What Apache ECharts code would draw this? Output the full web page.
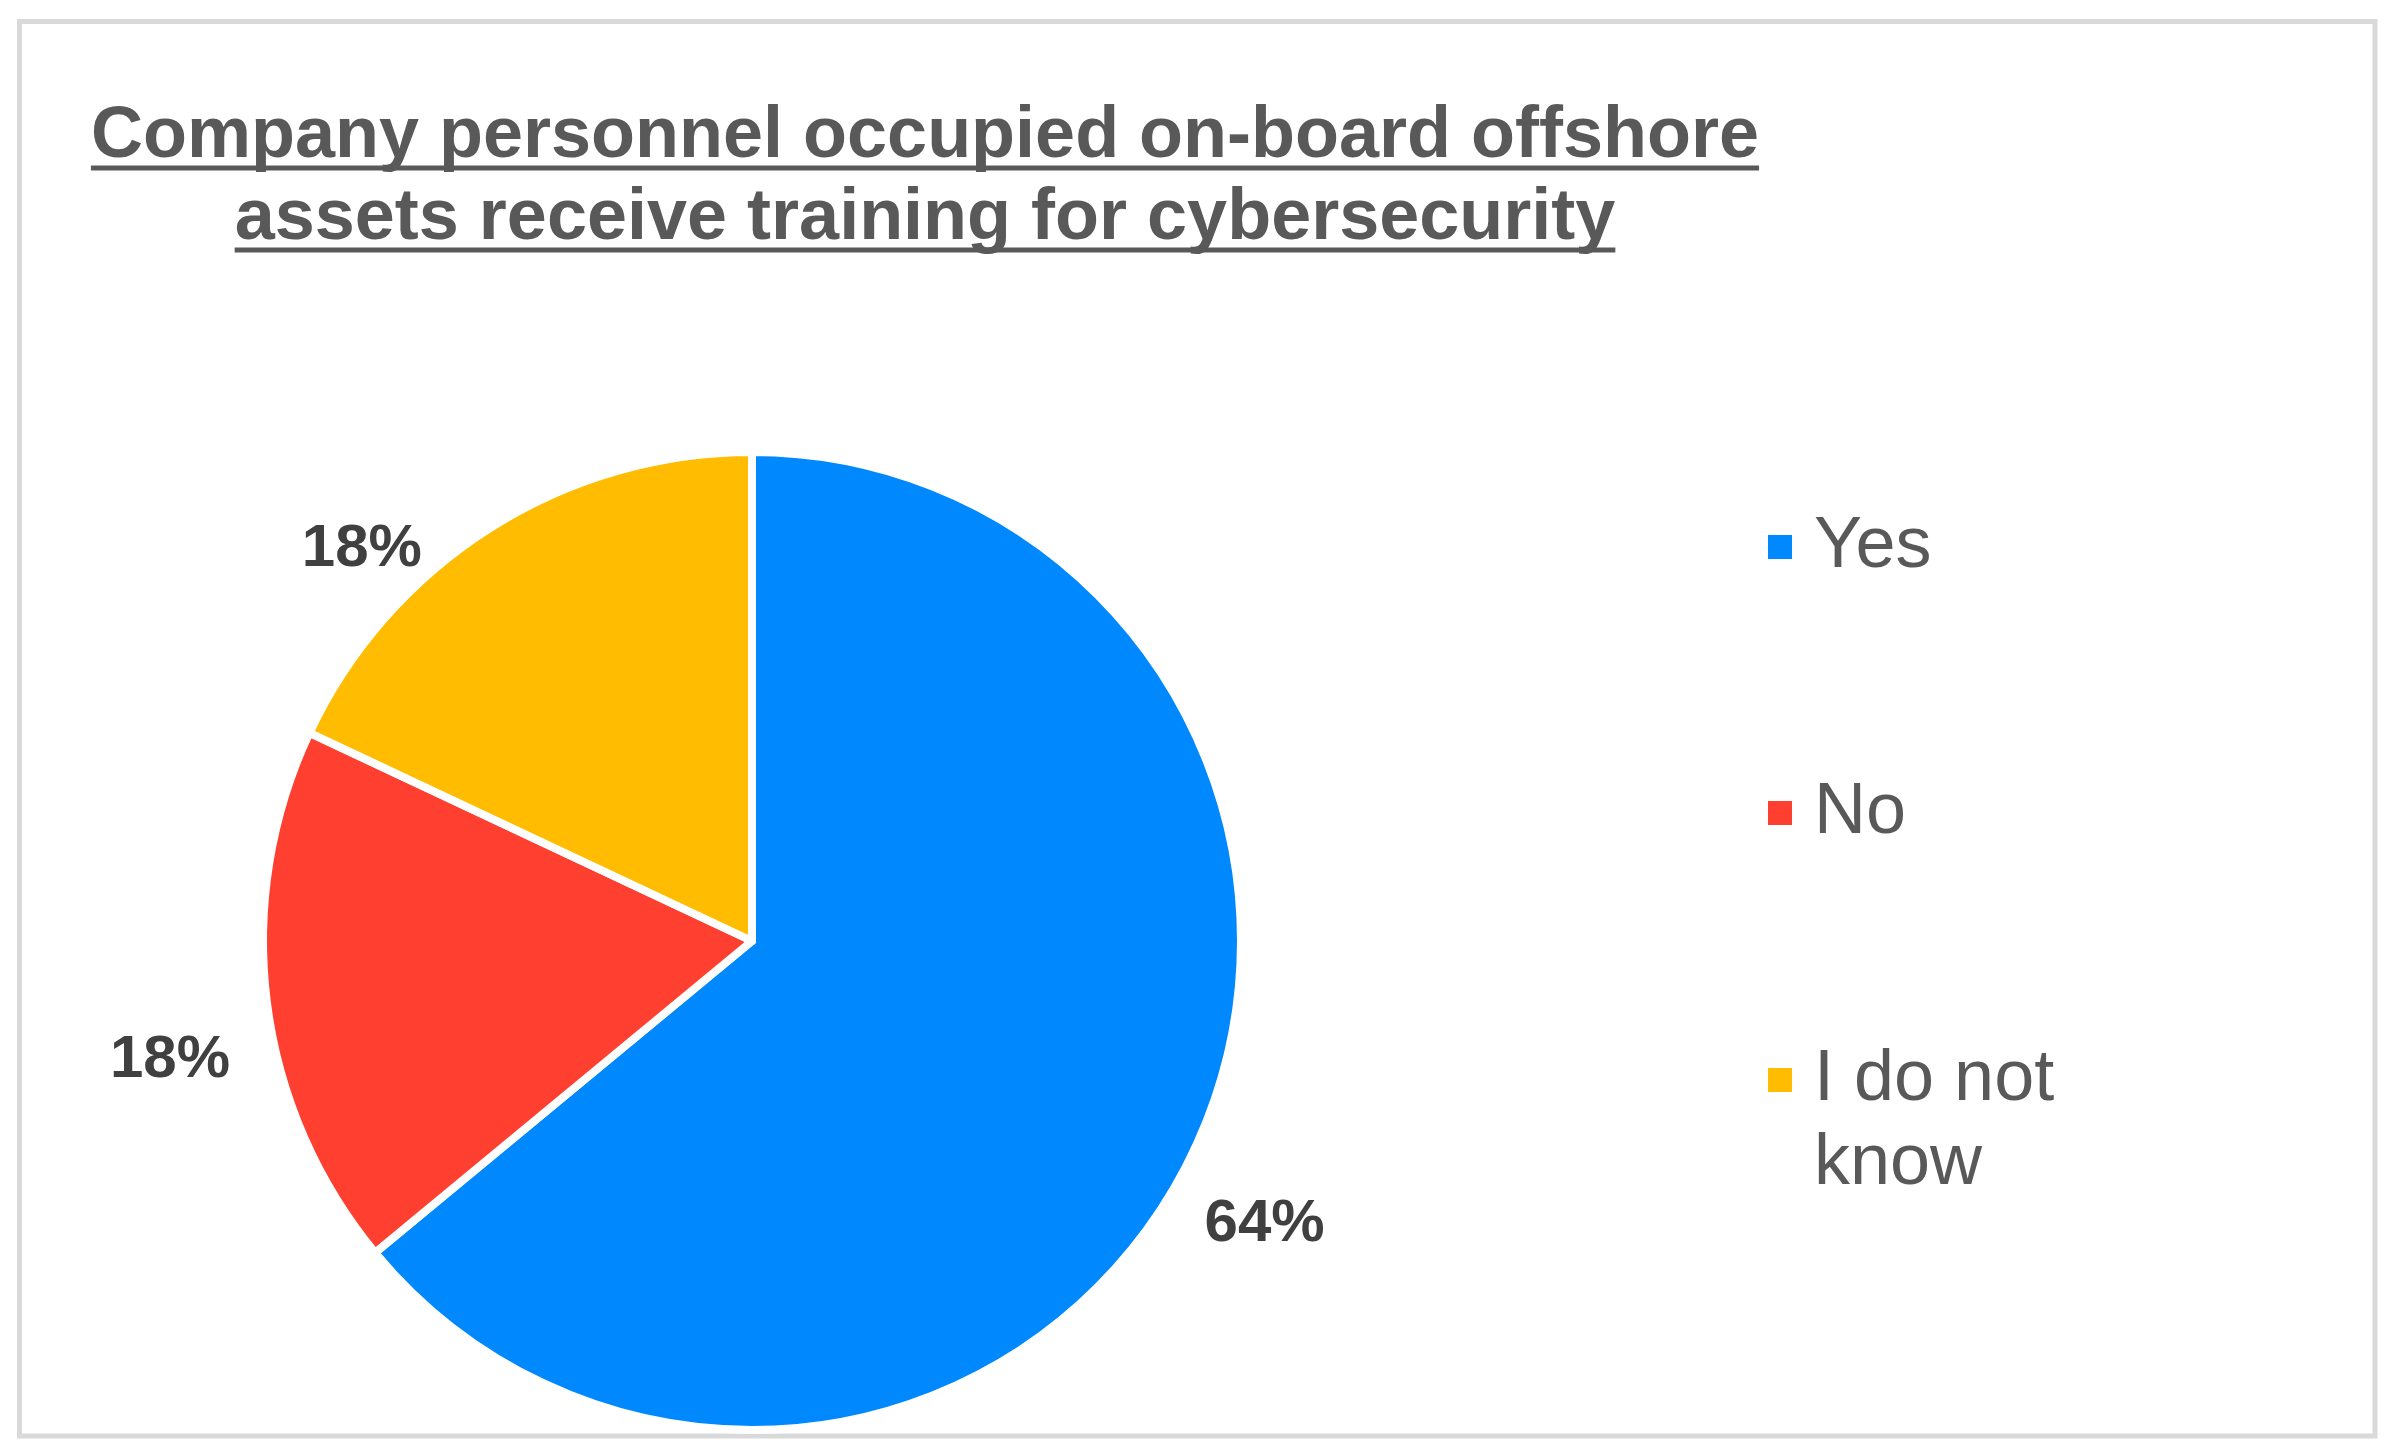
<!DOCTYPE html>
<html lang="en">
<head>
    <meta charset="UTF-8">
    <title>Cybersecurity training</title>
    <script src="https://cdn.jsdelivr.net/npm/echarts@6/dist/echarts.min.js"></script>
    <style>
        html, body { margin: 0; padding: 0; background: #fff; }
        #main { width: 2395px; height: 1454px; }
    </style>
</head>
<body>
<div id="main"></div>
<script type="text/javascript">
    // values (percent of answers)
    var categories = ['Yes', 'No', 'I do not know'];
    var shares = [64, 18, 18];
    var titleLines = ['Company personnel occupied on-board offshore', 'assets receive training for cybersecurity'];

    var colors = ['#0088FF', '#FF3F2F', '#FFBC00'];
    var FONT = '"Liberation Sans", Arial, sans-serif';

    // nudge for each percentage label, same order as categories
    var labelShift = [[-22, 62], [-2, 54], [-47, 47]];

    // measure the title lines so the underline fits the text
    var ctx = document.createElement('canvas').getContext('2d');
    ctx.font = 'bold 72px ' + FONT;
    var titleX = 925;
    var underlines = titleLines.map(function (t, i) {
        var w = ctx.measureText(t).width;
        return {
            type: 'line',
            shape: { x1: titleX - w / 2, y1: 168 + i * 82, x2: titleX + w / 2, y2: 168 + i * 82 },
            style: { stroke: '#595959', lineWidth: 5 },
            silent: true
        };
    });

    var legendBase = {
        orient: 'vertical',
        left: 1766,
        padding: 0,
        icon: 'rect',
        itemWidth: 26,
        itemHeight: 26,
        selectedMode: false,
        textStyle: { fontSize: 72, color: '#595959', fontFamily: FONT, lineHeight: 84, padding: [0, 0, 0, 16] }
    };
    var legendTops = [505, 771, 954];
    var legends = categories.map(function (c, i) {
        var lg = echarts.util.merge({}, legendBase, true);
        lg.top = legendTops[i];
        lg.data = [c];
        if (c === 'I do not know') {
            // empty first line keeps the marker level with "I do not"
            lg.formatter = function () { return ' \nI do not\nknow'; };
        }
        return lg;
    });

    var option = {
        animation: false,
        backgroundColor: '#fff',
        color: colors,
        title: {
            text: titleLines.join('\n'),
            left: titleX,
            top: 96,
            padding: 0,
            textAlign: 'center',
            textStyle: { fontSize: 72, fontWeight: 'bold', color: '#595959', fontFamily: FONT, lineHeight: 82 }
        },
        legend: legends,
        graphic: [{
            type: 'rect',
            shape: { x: 19.5, y: 21.5, width: 2355.5, height: 1414.5 },
            style: { fill: null, stroke: '#d9d9d9', lineWidth: 5 },
            silent: true
        }].concat(underlines),
        series: [{
            type: 'pie',
            center: [752, 941],
            radius: 489,
            startAngle: 90,
            clockwise: true,
            itemStyle: { borderColor: '#fff', borderWidth: 8 },
            label: {
                show: true,
                position: 'outside',
                formatter: '{d}%',
                fontSize: 60,
                fontWeight: 'bold',
                color: '#404040',
                fontFamily: FONT
            },
            labelLine: { show: false, length: 30, length2: 0 },
            labelLayout: function (params) {
                var s = labelShift[params.dataIndex];
                return { dx: s[0], dy: s[1] };
            },
            emphasis: { disabled: true },
            data: categories.map(function (c, i) {
                return { name: c, value: shares[i] };
            })
        }]
    };

    var myChart = echarts.init(document.getElementById('main'));
    myChart.setOption(option);
</script>
</body>
</html>
